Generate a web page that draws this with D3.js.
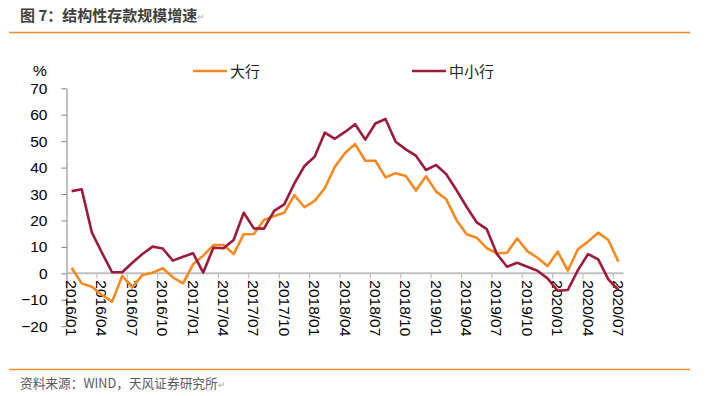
<!DOCTYPE html>
<html>
<head>
  <meta charset="utf-8">
  <title>结构性存款规模增速</title>
  <style>
    body { margin: 0; background: #fff; }
    text { font-family: "Liberation Sans", Arial, "Noto Sans CJK SC", sans-serif; }
    .cjk { font-family: "Noto Sans CJK SC", sans-serif; }
  </style>
</head>
<body>
  <svg width="717" height="396"></svg>
  <script src="https://cdn.jsdelivr.net/npm/d3@7"></script>
  <script>
  // 数据：2016/01 - 2020/07 月度
  var startYear = 2016, monthCount = 55;
  var months = [];
  for (var i = 0; i < monthCount; i++) {
    var y = startYear + Math.floor(i / 12), m = i % 12 + 1;
    months.push(y + "/" + (m < 10 ? "0" + m : m));
  }

  var bigBanks = [2.1, -3.8, -5.1, -8.2, -10.7, -1.0, -5.3, -0.6, 0.2, 1.9, -1.5, -3.8, 3.4, 6.7,
    10.7, 10.7, 7.3, 14.8, 14.9, 20.2, 21.7, 22.9, 29.6, 25.0, 27.4, 32.2, 40.3, 45.5,
    48.9, 42.6, 42.6, 36.3, 37.9, 36.8, 31.3, 36.7, 30.9, 28.0, 20.2, 14.8, 13.5, 9.5,
    7.6, 7.8, 13.2, 8.4, 5.9, 2.8, 8.2, 1.0, 9.1, 12.0, 15.4, 12.6, 4.4];

  var smallBanks = [31.1, 31.8, 15.5, 7.8, 0.4, 0.4, 4.0, 7.3, 10.1, 9.4, 4.8, 6.3, 7.6, 0.3,
    9.7, 9.5, 12.6, 22.9, 17.0, 16.9, 23.6, 26.1, 34.0, 40.6, 44.1, 53.2, 50.9, 53.5,
    56.4, 50.6, 56.7, 58.4, 49.8, 46.9, 44.5, 39.1, 41.0, 37.5, 31.5, 25.2, 19.3, 16.7,
    7.3, 2.5, 4.0, 2.5, 1.0, -1.9, -6.6, -6.3, 1.2, 7.3, 5.3, -2.3, -6.3];

  var yTicks = [-20, -10, 0, 10, 20, 30, 40, 50, 60, 70];
  var xTickLabels = ["2016/01", "2016/04", "2016/07", "2016/10", "2017/01", "2017/04", "2017/07",
    "2017/10", "2018/01", "2018/04", "2018/07", "2018/10", "2019/01", "2019/04", "2019/07",
    "2019/10", "2020/01", "2020/04", "2020/07"];

  var orange = "#F7891E", crimson = "#9C1A3C";

  var svg = d3.select("svg");

  // 标题与分隔线
  svg.append("text").attr("class", "cjk")
    .attr("x", 20).attr("y", 21)
    .attr("font-size", 15).attr("font-weight", "bold").attr("fill", "#404040")
    .text("图 7：结构性存款规模增速");
  svg.append("text").attr("x", 197).attr("y", 20)
    .attr("font-size", 9).attr("fill", "#aaa").text("↵");
  svg.append("line").attr("x1", 9).attr("x2", 690).attr("y1", 32.5).attr("y2", 32.5)
    .attr("stroke", "#F08A2A").attr("stroke-width", 1.3);

  svg.append("line").attr("x1", 9).attr("x2", 690).attr("y1", 369.5).attr("y2", 369.5)
    .attr("stroke", "#F08A2A").attr("stroke-width", 1.3);
  svg.append("text").attr("class", "cjk")
    .attr("x", 20).attr("y", 388)
    .attr("font-size", 12.7).attr("fill", "#595959")
    .text("资料来源：WIND，天风证券研究所");
  svg.append("text").attr("x", 218).attr("y", 388)
    .attr("font-size", 9).attr("fill", "#aaa").text("↵");

  // 比例尺
  var x = d3.scaleBand().domain(months).range([66.5, 623.5]);
  var yScale = d3.scaleLinear().domain([-20, 70]).range([326.2, 88.3]);
  var cx = function(d, i) { return x(months[i]) + x.bandwidth() / 2; };

  // y 轴
  svg.append("g")
    .attr("transform", "translate(66.5,0)")
    .call(d3.axisLeft(yScale).tickValues(yTicks).tickSize(5).tickSizeOuter(0).tickPadding(14))
    .call(function(g) {
      g.select(".domain").attr("stroke", "#7f7f7f");
      g.selectAll(".tick line").attr("stroke", "#7f7f7f");
      g.selectAll("text").attr("font-size", 15.5).attr("fill", "#000")
        .attr("font-family", "Liberation Sans, Arial, sans-serif");
    });

  svg.append("text").attr("x", 40).attr("y", 76)
    .attr("text-anchor", "middle").attr("font-size", 15.5).text("%");

  // x 轴（位于 0 处）
  var y0 = yScale(0);
  svg.append("line").attr("x1", 66.5).attr("x2", 623.5).attr("y1", y0).attr("y2", y0)
    .attr("stroke", "#c0c0c0").attr("stroke-width", 2);

  svg.append("g").selectAll("line")
    .data(xTickLabels)
    .enter().append("line")
    .attr("x1", function(d) { return x(d); })
    .attr("x2", function(d) { return x(d); })
    .attr("y1", y0).attr("y2", y0 + 5.5)
    .attr("stroke", "#c0c0c0").attr("stroke-width", 1.2);

  svg.append("g").selectAll("text")
    .data(xTickLabels)
    .enter().append("text")
    .attr("transform", function(d) {
      return "translate(" + (x(d) + x.bandwidth() / 2) + "," + (y0 + 7) + ") rotate(90)";
    })
    .attr("dominant-baseline", "central")
    .attr("font-size", 15.5).attr("fill", "#000")
    .text(function(d) { return d; });

  // 折线
  var line = d3.line()
    .x(cx)
    .y(function(d) { return yScale(d); });

  svg.append("path").datum(bigBanks)
    .attr("d", line).attr("fill", "none")
    .attr("stroke", orange).attr("stroke-width", 2.6).attr("stroke-linejoin", "round");

  svg.append("path").datum(smallBanks)
    .attr("d", line).attr("fill", "none")
    .attr("stroke", crimson).attr("stroke-width", 2.6).attr("stroke-linejoin", "round");

  // 图例
  var legend = [
    { name: "大行", color: orange, x: 193 },
    { name: "中小行", color: crimson, x: 412 }
  ];
  var lg = svg.append("g").selectAll("g").data(legend).enter().append("g");
  lg.append("line")
    .attr("x1", function(d) { return d.x; })
    .attr("x2", function(d) { return d.x + 34; })
    .attr("y1", 71).attr("y2", 71)
    .attr("stroke", function(d) { return d.color; }).attr("stroke-width", 2.5);
  lg.append("text").attr("class", "cjk")
    .attr("x", function(d) { return d.x + 37; })
    .attr("y", 76.5)
    .attr("font-size", 15).attr("fill", "#262626")
    .text(function(d) { return d.name; });
  </script>
</body>
</html>
